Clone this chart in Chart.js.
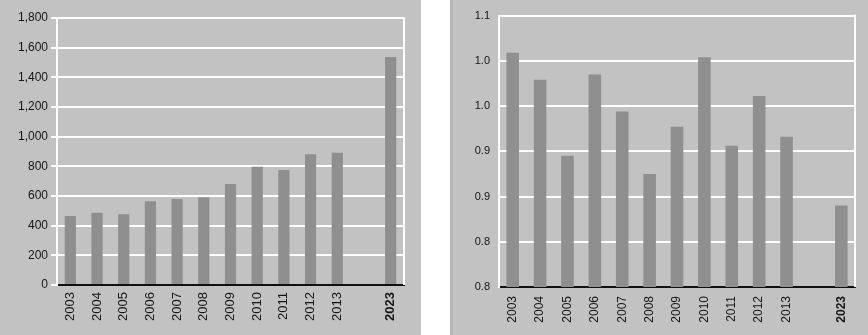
<!DOCTYPE html>
<html>
<head>
<meta charset="utf-8">
<script src="https://cdn.jsdelivr.net/npm/chart.js@4/dist/chart.umd.min.js"></script>
<style>
  html, body { margin:0; padding:0; background:#ffffff; width:868px; height:335px; overflow:hidden; }
  #left { position:absolute; left:0; top:0; width:421px; height:335px; background:#c2c2c2; }
  #right { position:absolute; left:450px; top:0; width:418px; height:335px; background:#c2c2c2; }
  #rightEdge { position:absolute; left:450px; top:0; width:3px; height:335px; background:#b6b6b6; }
  canvas { position:absolute; left:0; top:0; }
</style>
</head>
<body>
<div id="left"><canvas id="c1" width="421" height="335"></canvas></div>
<div id="right"><canvas id="c2" width="418" height="335"></canvas></div>
<div id="rightEdge"></div>
<script>
// ---- data ----
const categories = ['2003','2004','2005','2006','2007','2008','2009','2010','2011','2012','2013','','2023'];
const leftValues = [465, 487, 477, 564, 580, 591, 681, 798, 775, 881, 892, null, 1537];
const rightValues = [1.059, 1.029, 0.945, 1.035, 0.994, 0.925, 0.977, 1.054, 0.956, 1.011, 0.966, null, 0.890];
const leftTickValues = [0, 200, 400, 600, 800, 1000, 1200, 1400, 1600, 1800];
const rightTickLabels = ['0.8', '0.8', '0.9', '0.9', '1.0', '1.0', '1.1'];

const BAR = '#8f8f8f';
const TEXT = '#151515';
const FONT = "'Liberation Sans', Arial, sans-serif";

const frame = {
  id: 'frame',
  beforeDatasetsDraw(chart) {
    const a = chart.chartArea, c = chart.ctx;
    c.save();
    c.strokeStyle = '#ffffff';
    c.lineWidth = 2;
    c.beginPath();
    c.moveTo(a.right, a.top - 1);
    c.lineTo(a.right, a.bottom);
    c.stroke();
    c.restore();
  }
};

function xScale(h, size, pad) {
  return {
    grid: { display: false, drawTicks: false },
    border: { display: true, color: '#111111', width: 2 },
    ticks: {
      autoSkip: false, minRotation: 90, maxRotation: 90, padding: pad,
      color: TEXT,
      font: (ctx) => ({ family: FONT, size: size, weight: ctx.tick && ctx.tick.label === '2023' ? 'bold' : 'normal' })
    },
    afterFit(s) { s.height = h; }
  };
}

new Chart(document.getElementById('c1'), {
  type: 'bar',
  data: { labels: categories, datasets: [{ data: leftValues, backgroundColor: BAR, barPercentage: 0.42, categoryPercentage: 1 }] },
  options: {
    responsive: false, animation: false,
    layout: { padding: { top: 18, right: 17, left: 0, bottom: 0 } },
    plugins: { legend: { display: false }, tooltip: { enabled: false } },
    scales: {
      x: xScale(50, 13, 7),
      y: {
        min: 0, max: 1800,
        afterBuildTicks(s) { s.ticks = leftTickValues.map(v => ({ value: v })); },
        grid: { color: '#ffffff', lineWidth: 2, tickLength: 6, drawTicks: true },
        border: { display: true, color: '#ffffff', width: 2 },
        ticks: { color: TEXT, padding: 3, font: { family: FONT, size: 12 },
                 callback: (v) => Number(v).toLocaleString('en-US') },
        afterFit(s) { s.width = 57; }
      }
    }
  },
  plugins: [frame]
});

new Chart(document.getElementById('c2'), {
  type: 'bar',
  data: { labels: categories, datasets: [{ data: rightValues, backgroundColor: BAR, barPercentage: 0.46, categoryPercentage: 1 }] },
  options: {
    responsive: false, animation: false,
    layout: { padding: { top: 15, right: 13, left: 0, bottom: 0 } },
    plugins: { legend: { display: false }, tooltip: { enabled: false } },
    scales: {
      x: xScale(48, 12, 9),
      y: {
        min: 0.8, max: 1.1,
        afterBuildTicks(s) { s.ticks = rightTickLabels.map((t, i) => ({ value: 0.8 + i * 0.05 })); },
        grid: { color: '#ffffff', lineWidth: 2, drawTicks: false },
        border: { display: true, color: '#ffffff', width: 2 },
        ticks: { color: TEXT, padding: 9, font: { family: FONT, size: 11 },
                 callback: (v, i) => rightTickLabels[i] },
        afterFit(s) { s.width = 49; }
      }
    }
  },
  plugins: [frame]
});
</script>
</body>
</html>
